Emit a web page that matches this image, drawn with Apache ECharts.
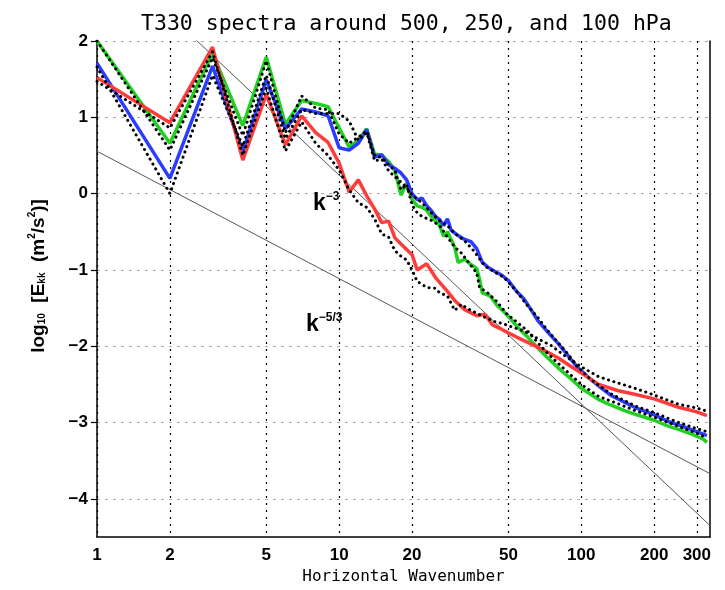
<!DOCTYPE html>
<html>
<head>
<meta charset="utf-8">
<script src="https://cdn.jsdelivr.net/npm/echarts@6/dist/echarts.min.js"></script>
<style>html,body{margin:0;padding:0;background:#fff}#c{width:725px;height:590px}</style>
</head>
<body>
<div id="c"></div>
<script>
// ---- data (wavenumber k, log10 E) ----
const xTicks = [1, 2, 5, 10, 20, 50, 100, 200, 300];
const yTicks = [-4, -3, -2, -1, 0, 1, 2];

const green = [[1,2.00],[2,0.66],[3,1.84],[4,0.89],[5,1.79],[6,0.91],[7,1.22],[8,1.18],[9,1.14],[10,0.86],[11,0.61],[12,0.70],[13,0.85],[14,0.52],[15,0.50],[16,0.42],[17,0.30],[18,-0.02],[19,0.14],[20,-0.08],[21,-0.16],[22,-0.18],[23,-0.22],[24,-0.30],[25,-0.36],[26,-0.42],[27,-0.56],[28,-0.50],[30,-0.70],[31,-0.90],[33,-0.86],[35,-0.93],[37,-0.98],[38,-1.12],[39,-1.30],[42,-1.34],[45,-1.47],[48,-1.55],[51,-1.64],[55,-1.76],[60,-1.88],[66,-2.02],[72,-2.14],[80,-2.28],[90,-2.42],[100,-2.55],[118,-2.70],[132,-2.77],[150,-2.84],[166,-2.89],[200,-2.97],[230,-3.05],[252,-3.09],[280,-3.14],[300,-3.18],[320,-3.22],[330,-3.26]];

const blue = [[1,1.71],[2,0.20],[3,1.67],[4,0.55],[5,1.49],[6,0.85],[7,1.11],[8,1.07],[9,1.02],[10,0.60],[11,0.57],[12,0.66],[13,0.84],[14,0.48],[15,0.51],[16,0.38],[17,0.33],[18,0.27],[19,0.18],[20,0.00],[21,-0.08],[22,-0.06],[23,-0.16],[24,-0.22],[25,-0.30],[26,-0.34],[27,-0.42],[28,-0.33],[29,-0.48],[31,-0.55],[33,-0.60],[35,-0.63],[37,-0.72],[39,-0.90],[41,-0.96],[44,-1.02],[47,-1.07],[50,-1.14],[54,-1.28],[58,-1.38],[62,-1.52],[66,-1.66],[72,-1.80],[80,-1.96],[88,-2.12],[96,-2.27],[108,-2.42],[120,-2.54],[132,-2.64],[150,-2.73],[166,-2.80],[200,-2.90],[230,-2.99],[252,-3.03],[300,-3.12],[330,-3.17]];

const red = [[1,1.52],[2,0.93],[3,1.92],[4,0.44],[5,1.30],[6,0.64],[7,1.02],[8,0.80],[9,0.67],[10,0.40],[11,0.02],[12,0.18],[13,-0.03],[14,-0.20],[15,-0.38],[16,-0.36],[17,-0.58],[18,-0.66],[20,-0.80],[21,-1.00],[23,-0.92],[25,-1.10],[28,-1.28],[30,-1.40],[33,-1.52],[37,-1.60],[40,-1.58],[43,-1.72],[47,-1.78],[54,-1.88],[61,-1.96],[70,-2.05],[80,-2.15],[90,-2.26],[100,-2.35],[118,-2.50],[141,-2.58],[166,-2.63],[200,-2.69],[252,-2.80],[300,-2.86],[330,-2.91]];

const greenRef = [[1,2.00],[2,0.57],[3,1.78],[4,0.76],[5,1.74],[6,0.80],[7,1.28],[8,1.12],[9,1.10],[10,0.78],[11,0.66],[12,0.74],[13,0.82],[14,0.50],[15,0.47],[16,0.38],[17,0.30],[18,0.05],[19,0.12],[20,-0.15],[21,-0.25],[22,-0.30],[24,-0.35],[26,-0.42],[28,-0.57],[30,-0.70],[32,-0.78],[34,-0.89],[37,-1.04],[38,-1.23],[41,-1.30],[45,-1.42],[49,-1.57],[54,-1.68],[60,-1.80],[66,-1.95],[72,-2.08],[80,-2.22],[90,-2.37],[100,-2.50],[118,-2.66],[141,-2.75],[166,-2.84],[200,-2.93],[252,-3.05],[300,-3.14],[330,-3.20]];

const blueRef = [[1,1.66],[2,0.00],[3,1.55],[4,0.62],[5,1.55],[6,0.72],[7,1.10],[8,1.05],[9,1.05],[10,1.05],[11,0.95],[12,0.70],[13,0.80],[14,0.43],[15,0.45],[16,0.30],[17,0.22],[18,0.15],[19,0.08],[20,-0.02],[22,-0.12],[24,-0.25],[26,-0.36],[28,-0.42],[30,-0.52],[33,-0.62],[36,-0.75],[40,-0.95],[44,-1.03],[48,-1.10],[54,-1.28],[60,-1.47],[66,-1.62],[72,-1.78],[80,-1.95],[88,-2.10],[96,-2.26],[108,-2.42],[120,-2.53],[132,-2.62],[150,-2.71],[166,-2.78],[200,-2.87],[252,-3.00],[300,-3.08],[330,-3.12]];

const redRef = [[1,1.47],[2,0.86],[3,1.86],[4,0.50],[5,1.38],[6,0.56],[7,0.94],[8,0.66],[9,0.50],[10,0.31],[11,0.05],[12,-0.12],[13,-0.18],[14,-0.33],[15,-0.53],[16,-0.57],[17,-0.75],[18,-0.82],[19,-0.87],[20,-1.00],[21,-1.15],[23,-1.23],[25,-1.24],[26,-1.30],[28,-1.34],[30,-1.53],[32,-1.45],[34,-1.51],[40,-1.62],[44,-1.68],[47,-1.70],[52,-1.75],[58,-1.80],[66,-1.90],[75,-1.99],[85,-2.12],[100,-2.27],[118,-2.40],[141,-2.48],[166,-2.55],[200,-2.64],[252,-2.76],[300,-2.81],[330,-2.85]];

// reference power-law lines (endpoints)
const slopeMinus3 = [[1,3.24],[340,-4.35]];
const slopeMinus53 = [[1,0.555],[340,-3.67]];

const chart = echarts.init(document.getElementById('c'));
const F = '"Liberation Sans", Arial, sans-serif';
const M = '"DejaVu Sans Mono", monospace';

function line(data, color, width, type, z) {
  return { type: 'line', data: data, showSymbol: false, symbol: 'none', clip: true, z: z,
    lineStyle: { color: color, width: width, type: type, cap: type === 'solid' ? 'butt' : 'round' }, animation: false };
}
const kRich = {
  k: { fontFamily: F, fontWeight: 'bold', fontSize: 23, lineHeight: 24, fill: '#000', verticalAlign: 'bottom' },
  e: { fontFamily: F, fontWeight: 'bold', fontSize: 12, lineHeight: 24, fill: '#000', verticalAlign: 'top' }
};

chart.setOption({
  animation: false,
  title: {
    text: 'T330 spectra around 500, 250, and 100 hPa',
    left: 136, top: 8,
    textStyle: { fontFamily: M, fontSize: 21.5, fontWeight: 'normal', color: '#000' }
  },
  grid: { left: 97, top: 41, width: 613, height: 505, containLabel: false },
  xAxis: {
    type: 'log', logBase: 10, min: 1, max: 340,
    axisLine: { show: true, onZero: false, lineStyle: { color: '#000', width: 1.5 } },
    axisTick: { show: false, customValues: xTicks },
    axisLabel: { customValues: xTicks, color: '#000', fontFamily: F, fontWeight: 'bold', fontSize: 17, margin: 10 },
    splitLine: { show: true, lineStyle: { color: '#000', width: 1.2, type: [2, 5] } },
    name: 'Horizontal Wavenumber', nameLocation: 'middle', nameGap: 32,
    nameTextStyle: { fontFamily: M, fontSize: 16, color: '#000' }
  },
  yAxis: [{
    type: 'value', min: -4.5, max: 2,
    axisLine: { show: true, onZero: false, lineStyle: { color: '#000', width: 1.5 } },
    axisTick: { show: true, customValues: yTicks, length: 6, lineStyle: { color: '#000', width: 1.2 } },
    axisLabel: { customValues: yTicks, color: '#000', fontFamily: F, fontWeight: 'bold', fontSize: 17, margin: 9,
      formatter: v => String(v).replace('-', '\u2212') },
    splitLine: { show: true, lineStyle: { color: '#aaa', width: 1, type: [3, 5] } }
  }, {
    type: 'value', min: -4.5, max: 2, position: 'right',
    axisLine: { show: true, onZero: false, lineStyle: { color: '#000', width: 1.5 } },
    axisTick: { show: false }, axisLabel: { show: false }, splitLine: { show: false }
  }],
  graphic: [
    { type: 'text', x: 36, y: 276, rotation: Math.PI / 2, z: 100,
      style: { text: '{a|log}{s|10}{a|  [E}{s|kk}{a|  (m}{p|2}{a|/s}{p|2}{a|)]}', align: 'center', verticalAlign: 'middle',
        rich: {
          a: { fontFamily: F, fontWeight: 'bold', fontSize: 19, lineHeight: 24, fill: '#000', verticalAlign: 'bottom' },
          s: { fontFamily: F, fontWeight: 'bold', fontSize: 10, lineHeight: 24, fill: '#000', verticalAlign: 'bottom', padding: [0, 0, 1, 0] },
          p: { fontFamily: F, fontWeight: 'bold', fontSize: 10, lineHeight: 24, fill: '#000', verticalAlign: 'top', padding: [3, 0, 0, 0] }
        } } },
    { type: 'text', x: 313, y: 191, z: 100, style: { text: '{k|k}{e|\u22123}', rich: kRich } },
    { type: 'text', x: 306, y: 312, z: 100, style: { text: '{k|k}{e|\u22125/3}', rich: kRich } }
  ],
  series: [
    line(slopeMinus3, '#555', 1, 'solid', 2),
    line(slopeMinus53, '#555', 1, 'solid', 2),
    line(green, '#22d022', 3.5, 'solid', 3),
    line(blue, '#2a3cff', 3.5, 'solid', 3),
    line(red, '#ff3c3c', 3.5, 'solid', 3),
    line(greenRef, '#000', 3, [0.1, 5.5], 4),
    line(blueRef, '#000', 3, [0.1, 5.5], 4),
    line(redRef, '#000', 3, [0.1, 5.5], 4)
  ]
});
</script>
</body>
</html>
